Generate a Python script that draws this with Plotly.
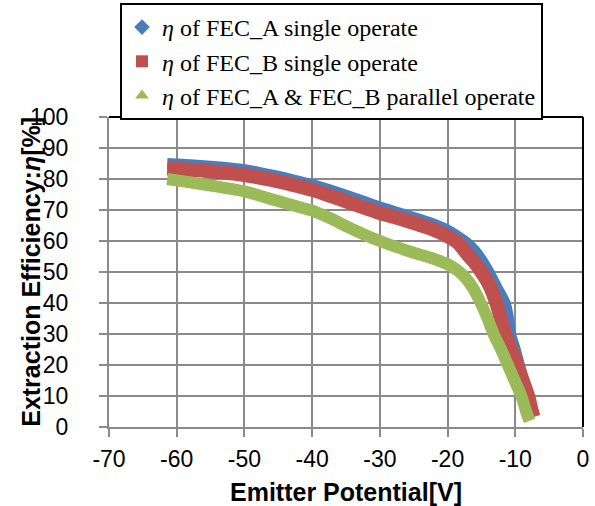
import plotly.graph_objects as go

# ---- data ----
blue_v = [-61.4, -58, -55, -50, -46, -43, -40, -37, -35, -32, -30, -27.5, -25, -22.5, -20, -18.5, -17.2, -16, -15, -13.9, -12.7, -11.5, -11, -10.7, -10, -9.4, -8.8, -8.3, -7.5]
blue_eta = [85.0, 84.6, 84.1, 83.0, 81.3, 79.8, 78.2, 76.2, 74.8, 72.5, 71.0, 69.3, 67.6, 65.8, 63.5, 61.5, 59.5, 57.0, 54.0, 50.0, 45.0, 40.0, 35.0, 30.0, 25.0, 20.0, 15.0, 10.0, 4.0]

red_v = [-61.4, -58, -55, -50, -46, -43, -40, -37, -35, -32, -30, -27.5, -25, -22.5, -20, -18.5, -17, -16, -15, -14, -12.8, -11.5, -10.6, -9.7, -8.9, -8.1, -7.6, -7.3]
red_eta = [83.4, 83.0, 82.5, 81.3, 79.7, 78.2, 76.5, 74.3, 72.8, 70.5, 69.0, 67.5, 65.8, 64.0, 61.5, 59.5, 55.5, 53.0, 50.0, 46.5, 40.0, 30.0, 25.0, 20.0, 15.0, 10.0, 5.5, 3.2]

green_v = [-61.4, -58, -55, -50, -46, -43, -40, -37, -35, -32, -30, -27.5, -25, -22.5, -20, -18.5, -17.3, -16.3, -15.1, -14.1, -13.2, -12.1, -11.1, -10.1, -9.1, -8.4, -7.9]
green_eta = [80.0, 78.9, 77.9, 76.0, 73.5, 71.6, 69.8, 67.0, 64.8, 61.8, 60.0, 58.0, 56.2, 54.6, 52.5, 50.5, 48.0, 45.0, 40.0, 35.0, 30.0, 25.0, 20.0, 15.0, 10.0, 5.0, 2.0]

series_names = [
    "<i>η</i> of FEC_A single operate",
    "<i>η</i> of FEC_B single operate",
    "<i>η</i> of FEC_A &amp; FEC_B parallel operate",
]
x_ticks = [-70, -60, -50, -40, -30, -20, -10, 0]
x_ticktext = ["-70", "-60", "-50", "-40", "-30", "-20", "-10", "0"]
y_ticks = [0, 10, 20, 30, 40, 50, 60, 70, 80, 90, 100]
x_title = "<b>Emitter Potential[V]</b>"
y_title = "<b>Extraction Efficiency:<i>η</i>[%]</b>"

colors = ["#4A7EBB", "#C0504D", "#9BBB59"]
symbols = ["diamond", "square", "triangle-up"]
sizes = [7, 7, 8]
widths = [11, 14, 12]

fig = go.Figure()
for xs, ys, c, w in zip([blue_v, red_v, green_v], [blue_eta, red_eta, green_eta], colors, widths):
    fig.add_trace(go.Scatter(x=xs, y=ys, mode="lines",
                             line=dict(color=c, width=w, shape="spline", smoothing=0.6),
                             showlegend=False, hoverinfo="skip"))
for name, c, s, sz in zip(series_names, colors, symbols, sizes):
    fig.add_trace(go.Scatter(x=[None], y=[None], mode="markers", name=name,
                             marker=dict(color=c, symbol=s, size=sz)))

grid = "#8A8A8A"
fig.update_layout(
    width=595, height=506,
    margin=dict(l=109, r=12, t=117, b=79, autoexpand=False),
    paper_bgcolor="white", plot_bgcolor="white",
    font=dict(family="Liberation Sans", color="black"),
    legend=dict(x=0.0232, y=1.3677, xanchor="left", yanchor="top",
                font=dict(family="Liberation Serif", size=24, color="black"),
                bgcolor="white", bordercolor="black", borderwidth=2,
                tracegroupgap=0, itemsizing="constant"),
    xaxis=dict(range=[-70, 0], tickvals=x_ticks, ticktext=x_ticktext,
               showgrid=True, gridcolor=grid, gridwidth=2,
               showline=True, linecolor=grid, linewidth=2,
               ticks="outside", ticklen=8, tickwidth=2, tickcolor=grid,
               tickfont=dict(size=23, family="Liberation Sans"),
               ticklabelstandoff=2,
               zeroline=False, automargin=False),
    yaxis=dict(range=[0, 100], tickvals=y_ticks,
               showgrid=True, gridcolor=grid, gridwidth=2,
               showline=True, linecolor=grid, linewidth=2,
               ticks="outside", ticklen=8, tickwidth=2, tickcolor=grid,
               tickfont=dict(size=23, family="Liberation Sans"),
               ticklabelstandoff=26,
               zeroline=False, automargin=False),
    shapes=[
        dict(type="line", xref="paper", yref="paper", x0=0, x1=1, y0=1, y1=1,
             line=dict(color="black", width=2), layer="above"),
        dict(type="line", xref="paper", yref="paper", x0=1, x1=1, y0=0, y1=1,
             line=dict(color="black", width=2), layer="above"),
    ],
    annotations=[
        dict(text=x_title, xref="paper", yref="paper", x=0.5, y=-0.2097,
             xanchor="center", yanchor="middle", showarrow=False,
             font=dict(size=25, family="Liberation Sans", color="black")),
        dict(text=y_title, xref="paper", yref="paper", x=-0.165, y=0.5,
             xanchor="center", yanchor="middle", showarrow=False, textangle=-90,
             font=dict(size=25, family="Liberation Sans", color="black")),
    ],
)

fig.write_html("out.html")
